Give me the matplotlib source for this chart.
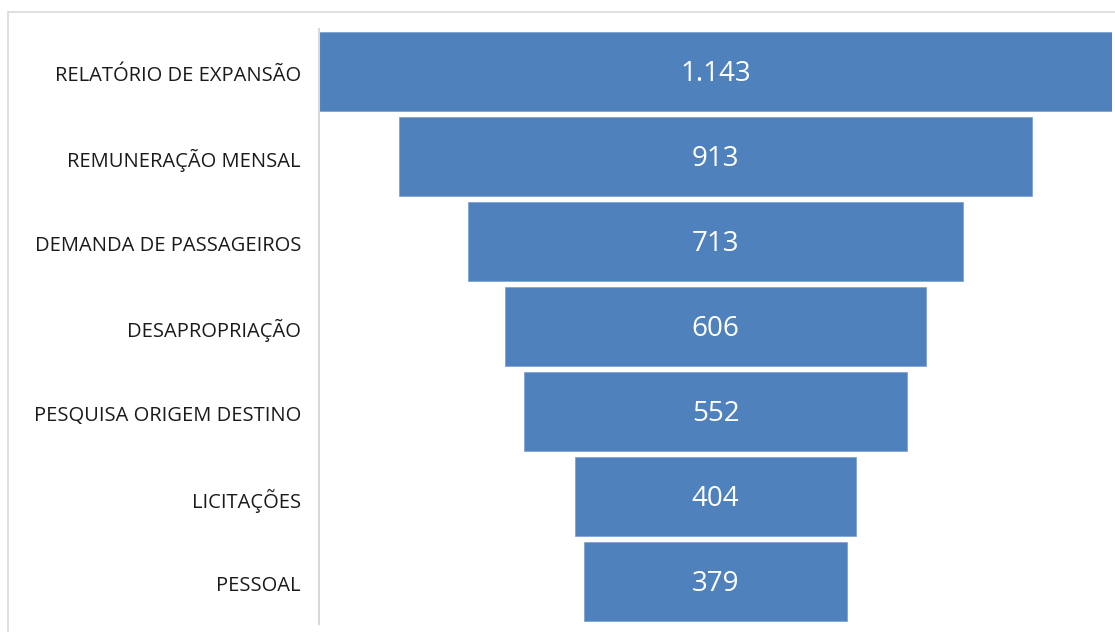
import matplotlib.pyplot as plt
from matplotlib.patches import Rectangle
import numpy as np

# Funil - quantidade por assunto
categorias = ['RELATÓRIO DE EXPANSÃO', 'REMUNERAÇÃO MENSAL', 'DEMANDA DE PASSAGEIROS',
              'DESAPROPRIAÇÃO', 'PESQUISA ORIGEM DESTINO', 'LICITAÇÕES', 'PESSOAL']
valores = [1143, 913, 713, 606, 552, 404, 379]
rotulos = ['1.143', '913', '713', '606', '552', '404', '379']

plt.rcParams['font.family'] = ['Open Sans', 'DejaVu Sans']

fig = plt.figure(figsize=(11.15, 6.32), dpi=100)
ax = fig.add_axes([319/1115, 8/632, 793/1115, 595/632])

y = np.arange(len(categorias))
v = np.array(valores)
barras = ax.barh(y, v, left=-v/2, height=0.93, color='#4f81bd',
                 edgecolor='#7fa3d3', linewidth=0.6)

for yi, txt in zip(y, rotulos):
    ax.text(0, yi + 0.03, txt, ha='center', va='center', color='white', fontsize=20)

ax.set_yticks(y + 0.02)
ax.set_yticklabels(categorias, fontsize=14.5, color='#1a1a1a')
ax.set_ylim(len(categorias) - 0.5, -0.5)
ax.set_xlim(-max(valores)/2, max(valores)/2)
ax.tick_params(axis='y', length=0, pad=13)
ax.set_xticks([])
for s in ['top', 'right', 'bottom']:
    ax.spines[s].set_visible(False)
ax.spines['left'].set_color('#d9d9d9')
ax.spines['left'].set_linewidth(1.5)

# moldura do gráfico
fig.patches.append(Rectangle((8/1115, -0.05), 1.1, 0.05 + 620/632, transform=fig.transFigure,
                             fill=False, edgecolor='#d9d9d9', linewidth=1.2))

plt.savefig('out.png', dpi=100)
